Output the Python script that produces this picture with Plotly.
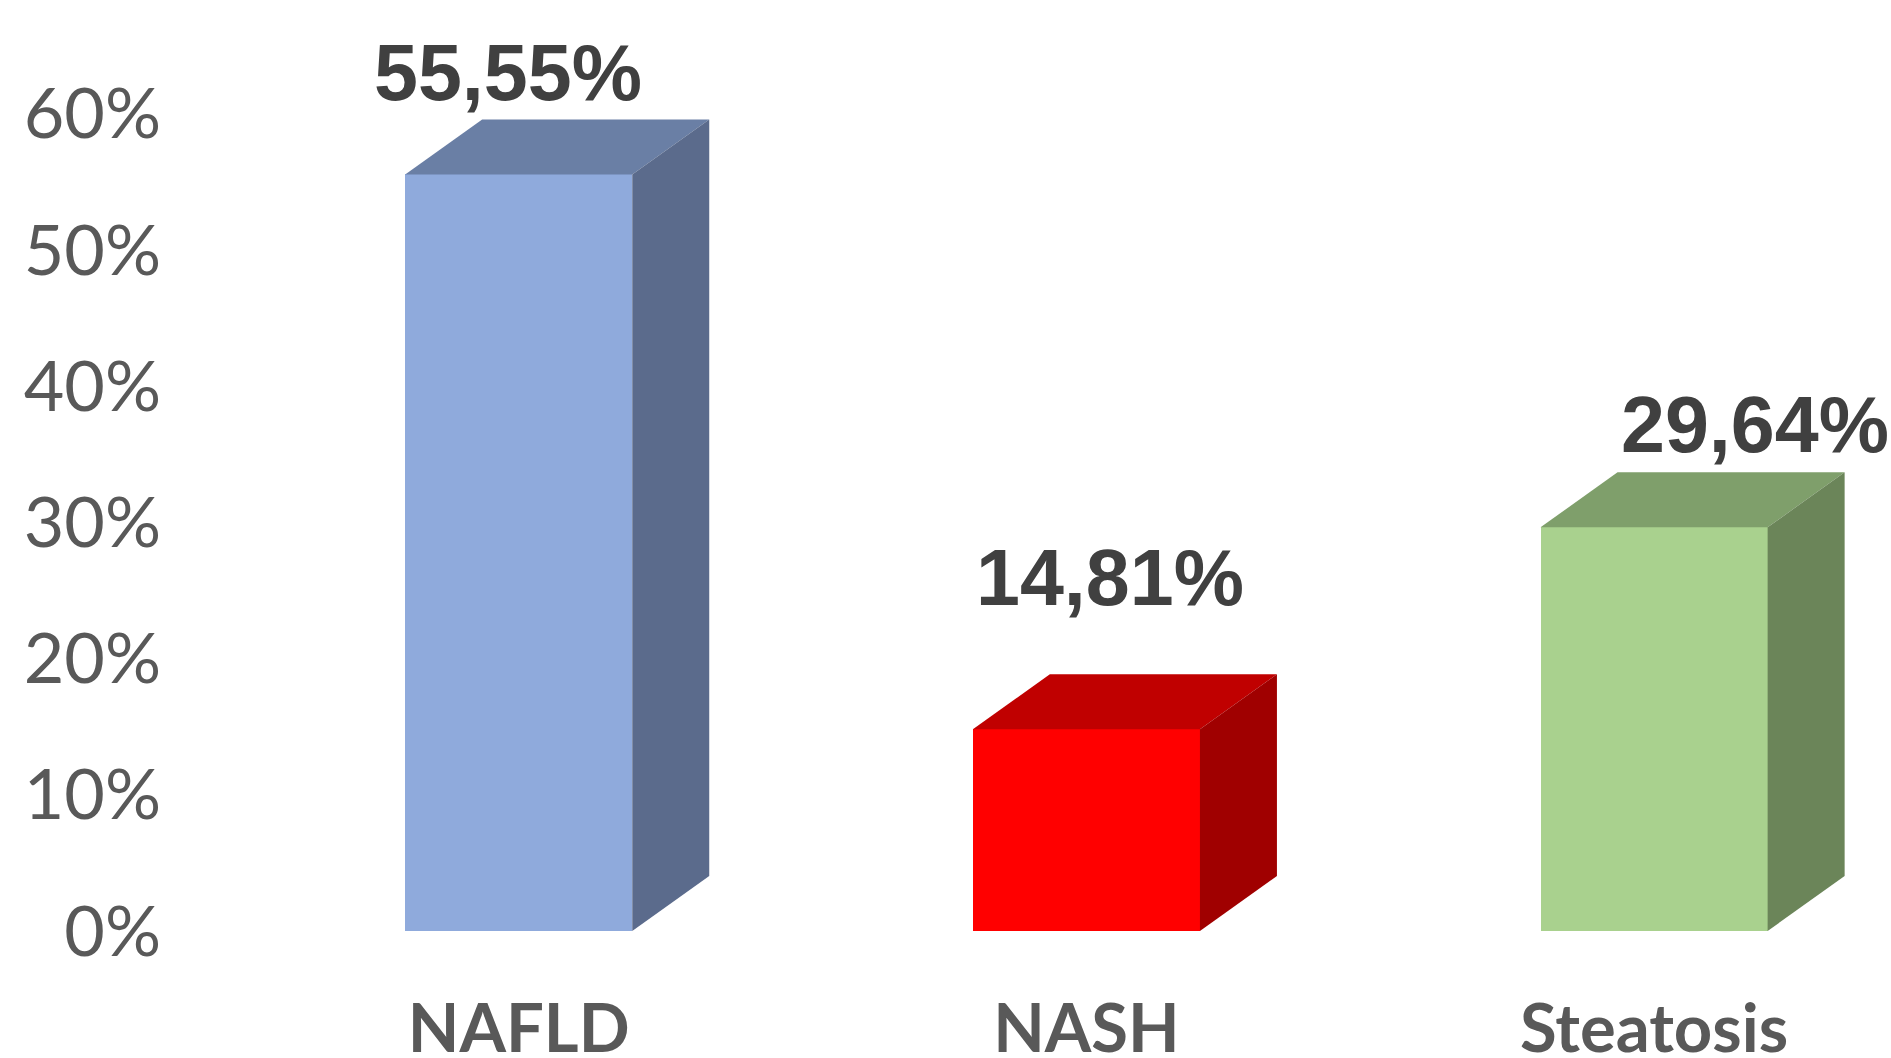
import plotly.graph_objects as go

# ---- data ----
categories = ["NAFLD", "NASH", "Steatosis"]
values = [55.55, 14.81, 29.64]
value_labels = ["55,55%", "14,81%", "29,64%"]
y_ticks = [0, 10, 20, 30, 40, 50, 60]
y_tick_labels = ["0%", "10%", "20%", "30%", "40%", "50%", "60%"]

# ---- styles ----
front_colors = ["#8FAADC", "#FF0000", "#A9D18E"]
top_colors = ["#6A7FA5", "#C00000", "#7F9F6B"]
side_colors = ["#5B6B8C", "#A00000", "#6B8559"]
label_xshift = [-11, 24, 101]
label_yshift = [47, 97, 48]

W, H = 1891, 1058
L, R, T, B = 162, 0, 0, 127
px_per_unit_x = 567.7
px_per_pct = 13.62
bar_w = 0.40
depth_x = 77 / px_per_unit_x
depth_y = 55 / px_per_pct

x_pos = list(range(len(categories)))
plot_w = W - L - R
plot_h = H - T - B
x0 = -(518.7 - L) / px_per_unit_x
x1 = x0 + plot_w / px_per_unit_x
y1 = plot_h / px_per_pct

fig = go.Figure()

fig.add_trace(go.Bar(
    x=x_pos, y=values, width=bar_w,
    marker=dict(color=front_colors, line=dict(width=0)),
    hoverinfo="skip", showlegend=False,
))

for i, v in enumerate(values):
    xl = x_pos[i] - bar_w / 2
    xr = x_pos[i] + bar_w / 2
    # top face
    fig.add_trace(go.Scatter(
        x=[xl, xl + depth_x, xr + depth_x, xr, xl],
        y=[v, v + depth_y, v + depth_y, v, v],
        fill="toself", fillcolor=top_colors[i], mode="lines",
        line=dict(width=0, color=top_colors[i]),
        hoverinfo="skip", showlegend=False,
    ))
    # side face
    fig.add_trace(go.Scatter(
        x=[xr, xr + depth_x, xr + depth_x, xr, xr],
        y=[0, depth_y, v + depth_y, v, 0],
        fill="toself", fillcolor=side_colors[i], mode="lines",
        line=dict(width=0, color=side_colors[i]),
        hoverinfo="skip", showlegend=False,
    ))
    fig.add_annotation(
        x=x_pos[i], y=v + depth_y, text=value_labels[i],
        showarrow=False, xanchor="center", yanchor="middle",
        xshift=label_xshift[i], yshift=label_yshift[i],
        font=dict(family="Liberation Sans, Arial", size=79, color="#404040", weight="bold"),
    )

fig.update_layout(
    width=W, height=H,
    margin=dict(l=L, r=R, t=T, b=B, pad=0, autoexpand=False),
    paper_bgcolor="white", plot_bgcolor="white",
    bargap=0,
    hovermode=False,
    xaxis=dict(
        range=[x0, x1], tickvals=x_pos, ticktext=categories,
        showgrid=False, zeroline=False, showline=False, ticks="",
        tickfont=dict(family="Lato", size=67, color="#595959", weight="bold"),
        ticklabelstandoff=53, automargin=False, fixedrange=True,
    ),
    yaxis=dict(
        range=[0, y1], tickvals=y_ticks, ticktext=y_tick_labels,
        showgrid=False, zeroline=False, showline=False, ticks="",
        tickfont=dict(family="Lato", size=70, color="#595959"),
        ticklabelstandoff=0, automargin=False, fixedrange=True,
    ),
)

fig.write_html(
    "out.html",
    config={"displayModeBar": False, "staticPlot": True},
    post_script="document.body.style.margin='0';document.body.style.overflow='hidden';",
)
